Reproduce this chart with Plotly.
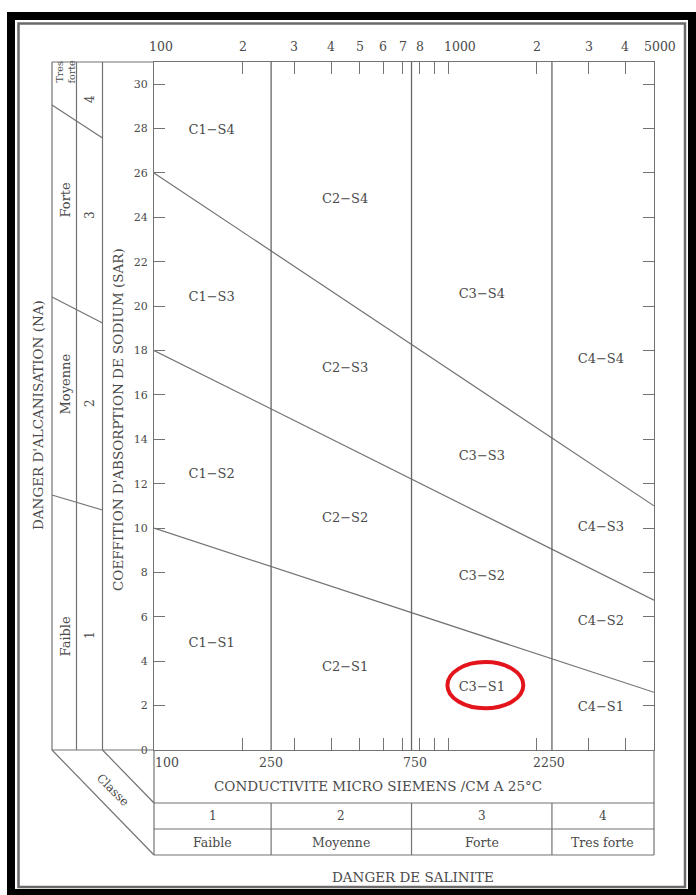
import math
import plotly.graph_objects as go

# --- Salinity (conductivity, micro siemens / cm at 25 C) ---
ec_min, ec_max = 100, 5000
class_bounds = [250, 750, 2250]
salinity_classes = ["1", "2", "3", "4"]
salinity_levels = ["Faible", "Moyenne", "Forte", "Tres forte"]

# --- Sodium hazard boundaries: SAR at EC = 100 and at EC = 5000 ---
sar_at_100 = [10, 18, 26]
sar_at_5000 = [2.6, 6.75, 11.0]
sar_max = 31

# --- Zone labels (C = salinity class, S = sodium class) ---
zone_names = ["C1-S4", "C1-S3", "C1-S2", "C1-S1",
              "C2-S4", "C2-S3", "C2-S2", "C2-S1",
              "C3-S4", "C3-S3", "C3-S2", "C3-S1",
              "C4-S4", "C4-S3", "C4-S2", "C4-S1"]
zone_ec = [157, 157, 157, 157,
           446, 446, 446, 446,
           1300, 1300, 1300, 1300,
           3300, 3300, 3300, 3300]
zone_sar = [27.9, 20.4, 12.4, 4.8,
            24.8, 17.2, 10.4, 3.7,
            20.5, 13.2, 7.8, 2.8,
            17.6, 10.0, 5.8, 1.9]
highlight_zone = "C3-S1"

# --- Axis ticks ---
top_tick_vals = [100, 200, 300, 400, 500, 600, 700, 800, 1000, 2000, 3000, 4000, 5000]
top_tick_text = ["100", "2", "3", "4", "5", "6", "7", "8", "1000", "2", "3", "4", "5000"]
top_tick_shift = [7, 0, 0, 0, 0, 0, 0, 0, 12, 0, 0, 0, 6]
minor_tick_vals = [200, 300, 400, 500, 600, 700, 800, 900, 1000, 2000, 3000, 4000]
bottom_label_vals = [100, 250, 750, 2250]
bottom_label_shift = [13, 0, 3, -3]
sar_ticks = list(range(0, 31, 2))

# --- Sodium (alkalinisation) hazard scale ---
sodium_classes = ["1", "2", "3", "4"]
sodium_levels = ["Faible", "Moyenne", "Forte", "Tres<br>forte"]

# --- page geometry (pixels) ---
W, H = 696, 895
L, R, T, B = 154, 42, 62, 145
PW, PH = W - L - R, H - T - B
BOTTOM = T + PH


def px(x):
    return (x - L) / PW


def py(y):
    return (BOTTOM - y) / PH


FONT = "DejaVu Serif"
TXT = "#4a4a4a"
LINE = "#737373"

fig = go.Figure()

# sodium hazard boundaries
for a, b in zip(sar_at_100, sar_at_5000):
    fig.add_trace(go.Scatter(x=[ec_min, ec_max], y=[a, b], mode="lines",
                             line=dict(color=LINE, width=1.2),
                             hoverinfo="skip", showlegend=False))

# salinity class boundaries
for v in class_bounds:
    fig.add_trace(go.Scatter(x=[v, v], y=[0, sar_max], mode="lines",
                             line=dict(color="#666666", width=1.3),
                             hoverinfo="skip", showlegend=False))

# zone labels
fig.add_trace(go.Scatter(x=zone_ec, y=zone_sar, mode="text",
                         text=[n.replace("-", "\u2212") for n in zone_names],
                         textfont=dict(family=FONT, size=13, color=TXT),
                         hoverinfo="skip", showlegend=False))

shapes = []
ann = []


def seg(x0, y0, x1, y1, color=LINE, width=1.2):
    shapes.append(dict(type="line", xref="paper", yref="paper",
                       x0=px(x0), y0=py(y0), x1=px(x1), y1=py(y1),
                       line=dict(color=color, width=width)))


def label(x, y, text, size, angle=0, xref="paper", yref="paper", **kw):
    ann.append(dict(x=x, y=y, xref=xref, yref=yref, text=text, showarrow=False,
                    textangle=angle, xanchor=kw.pop("xanchor", "center"),
                    yanchor=kw.pop("yanchor", "middle"),
                    font=dict(family=FONT, size=size, color=TXT), **kw))


# outer frame
shapes.append(dict(type="rect", xref="paper", yref="paper",
                   x0=px(11), x1=px(692), y0=py(16), y1=py(893),
                   line=dict(color="black", width=8)))
shapes.append(dict(type="rect", xref="paper", yref="paper",
                   x0=px(18.5), x1=px(685), y0=py(23.5), y1=py(887),
                   line=dict(color="#6a6a6a", width=2.5)))

# left panel (alkalinisation hazard)
for xv in (52, 76.5, 102.5):
    seg(xv, T, xv, BOTTOM)
seg(52, T, L, T)
seg(52, BOTTOM, L, BOTTOM)
seg(52, 105, 102.5, 138)
seg(52, 297, 102.5, 323)
seg(52, 495, 102.5, 510)

# lower-left bevel
seg(52, BOTTOM, L, 855)
seg(102.5, BOTTOM, L, 803)

# bottom panel (salinity hazard)
seg(L, BOTTOM, L, 855)
seg(L + PW, BOTTOM, L + PW, 855)
for yv in (803, 829, 855):
    seg(L, yv, L + PW, yv)
for v in class_bounds:
    shapes.append(dict(type="line", xref="x", yref="paper", x0=v, x1=v,
                       y0=py(803), y1=py(855),
                       line=dict(color=LINE, width=1.2)))

# highlight ring around one zone
hi = zone_names.index(highlight_zone)
cx = math.log10(zone_ec[hi]) + 0.012
cy = zone_sar[hi] + 0.12
shapes.append(dict(type="circle", xref="x", yref="y",
                   x0=10 ** (cx - 0.129), x1=10 ** (cx + 0.129),
                   y0=cy - 1.04, y1=cy + 1.04,
                   line=dict(color="#e3141c", width=4)))

# top conductivity labels
for v, t, s in zip(top_tick_vals, top_tick_text, top_tick_shift):
    label(math.log10(v), 1, t, 12.5, xref="x", yanchor="bottom", yshift=6, xshift=s)

# bottom conductivity labels
for v, s in zip(bottom_label_vals, bottom_label_shift):
    label(math.log10(v), 0, str(v), 12.5, xref="x", yanchor="top", yshift=-3, xshift=s)

# salinity class / level bands
edges = [ec_min] + class_bounds + [ec_max]
for i in range(4):
    mid = (math.log10(edges[i]) + math.log10(edges[i + 1])) / 2
    label(mid, py(816), salinity_classes[i], 12, xref="x")
    label(mid, py(842), salinity_levels[i], 12.5, xref="x")

# axis titles
label(px(378), py(786), "CONDUCTIVITE MICRO SIEMENS /CM A 25°C", 13.5)
label(px(413), py(877), "DANGER DE SALINITE", 13.5)
label(px(118), py(420), "COEFFITION D'ABSORPTION DE SODIUM (SAR)", 13.5, angle=-90)
label(px(38), py(415), "DANGER D'ALCANISATION (NA)", 13.5, angle=-90)
label(px(113), py(790), "Classe", 12, angle=45)

# alkalinisation classes / levels (rotated)
class_y = [635, 403, 215, 99]
level_y = [636, 384, 200, 72]
for i in range(4):
    label(px(90), py(class_y[i]), sodium_classes[i], 12, angle=-90)
    label(px(64.5), py(level_y[i]), sodium_levels[i], 9.5 if i == 3 else 13, angle=-90)

axis_common = dict(showgrid=False, zeroline=False, showline=True,
                   linecolor=LINE, linewidth=1.2, ticks="inside",
                   tickcolor=LINE, tickwidth=1.2, mirror="ticks")

fig.update_layout(
    width=W, height=H,
    margin=dict(l=L, r=R, t=T, b=B),
    paper_bgcolor="white", plot_bgcolor="white",
    xaxis=dict(type="log", range=[math.log10(ec_min), math.log10(ec_max)],
               tickvals=minor_tick_vals, ticklen=12, showticklabels=False,
               **axis_common),
    yaxis=dict(range=[0, sar_max], tickvals=sar_ticks, ticklen=11,
               tickfont=dict(family=FONT, size=11, color=TXT),
               ticklabelstandoff=3, **axis_common),
    shapes=shapes,
    annotations=ann,
    showlegend=False,
)

fig.write_html("out.html")
